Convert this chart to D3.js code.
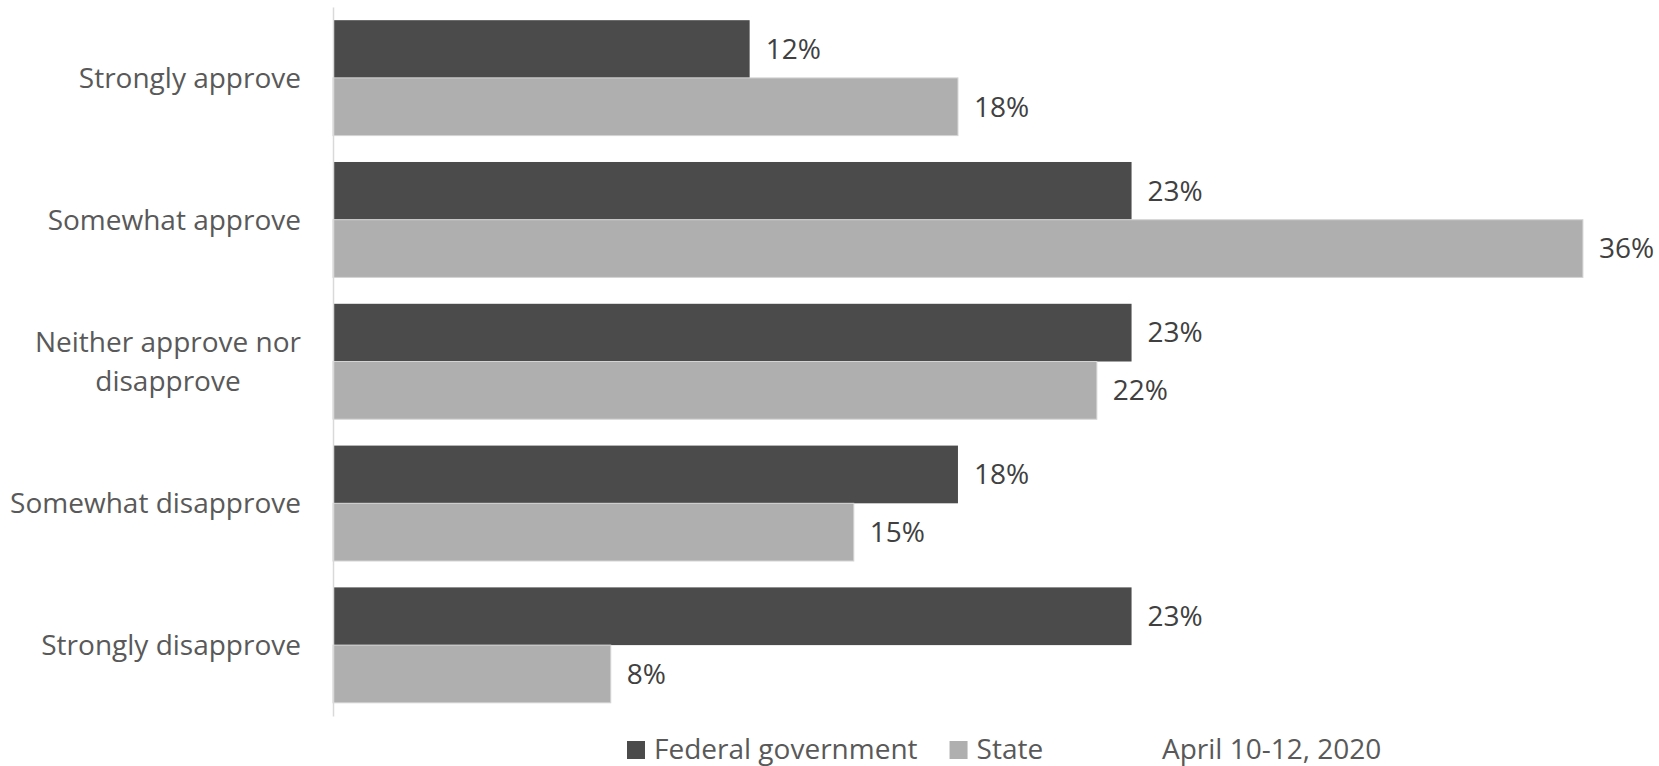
<!DOCTYPE html>
<html>
<head>
<meta charset="utf-8">
<script src="https://cdn.jsdelivr.net/npm/d3@7"></script>
<style>
  html, body { margin: 0; padding: 0; background: #ffffff; }
  svg { display: block; }
  text { font-family: "Open Sans", sans-serif; }
</style>
</head>
<body>
<svg id="chart" width="1659" height="766"></svg>
<script>
// Survey responses, top to bottom
const categories = [
  "Strongly approve",
  "Somewhat approve",
  "Neither approve nor disapprove",
  "Somewhat disapprove",
  "Strongly disapprove"
];
// Label lines for each category (wrapped like the axis labels)
const categoryLines = [
  ["Strongly approve"],
  ["Somewhat approve"],
  ["Neither approve nor", "disapprove"],
  ["Somewhat disapprove"],
  ["Strongly disapprove"]
];
const seriesNames = ["Federal government", "State"];
const federalValues = [12, 23, 23, 18, 23];
const stateValues = [18, 36, 22, 15, 8];
const noteText = "April 10-12, 2020";

const colors = { "Federal government": "#4b4b4b", "State": "#afafaf" };

const W = 1659, H = 766;
const plot = { left: 333, top: 7, bottom: 716 };
const pxPerPct = 34.72;
const fontSize = 28;

const svg = d3.select("#chart");

const y = d3.scaleBand()
  .domain(categories)
  .range([plot.top, plot.bottom])
  .paddingInner(0.186)
  .paddingOuter(0.093);

const ySub = d3.scaleBand()
  .domain(seriesNames)
  .range([0, y.bandwidth()]);

const x = d3.scaleLinear()
  .domain([0, 36])
  .range([plot.left, plot.left + 36 * pxPerPct]);

const rows = categories.map((c, i) => ({
  category: c,
  values: [
    { series: "Federal government", value: federalValues[i] },
    { series: "State", value: stateValues[i] }
  ]
}));

// Bars
const groups = svg.append("g").selectAll("g")
  .data(rows)
  .join("g")
  .attr("transform", d => `translate(0,${y(d.category)})`);

groups.selectAll("rect")
  .data(d => d.values)
  .join("rect")
  .attr("x", x(0))
  .attr("y", d => ySub(d.series))
  .attr("width", d => x(d.value) - x(0))
  .attr("height", ySub.bandwidth())
  .attr("fill", d => colors[d.series])
  .attr("stroke", d => d.series === "State" ? "#d4d4d4" : "none")
  .attr("stroke-width", 1);

// Value labels
groups.selectAll("text.val")
  .data(d => d.values)
  .join("text")
  .attr("class", "val")
  .attr("x", d => x(d.value) + 16)
  .attr("y", d => ySub(d.series) + ySub.bandwidth() / 2)
  .attr("dy", "0.35em")
  .attr("fill", "#404040")
  .attr("font-size", fontSize)
  .text(d => d.value + "%");

// Category axis (vertical line on the left)
const yAxis = svg.append("g")
  .attr("transform", `translate(${plot.left},0)`)
  .call(d3.axisLeft(y).tickSize(0).tickFormat(""));
yAxis.select(".domain").attr("stroke", "#d9d9d9").attr("stroke-width", 1.5);

// Category labels, right-aligned block; wrapped lines centred on each other
const labelRight = 301;
const lineGap = 39;
categories.forEach((c, i) => {
  const lines = categoryLines[i];
  const cy = y(c) + y.bandwidth() / 2;
  const g = svg.append("g");
  const texts = lines.map((ln, k) => g.append("text")
    .attr("y", cy + (k - (lines.length - 1) / 2) * lineGap)
    .attr("dy", "0.35em")
    .attr("fill", "#595959")
    .attr("font-size", fontSize)
    .attr("text-anchor", "middle")
    .text(ln));
  const maxW = d3.max(texts, t => t.node().getComputedTextLength());
  texts.forEach(t => t.attr("x", labelRight - maxW / 2));
});

// Legend
const legendY = 749;
const legend = svg.append("g");
let lx = 627;
seriesNames.forEach(name => {
  legend.append("rect")
    .attr("x", lx).attr("y", legendY - 8)
    .attr("width", 18).attr("height", 18)
    .attr("fill", colors[name]);
  const t = legend.append("text")
    .attr("x", lx + 27).attr("y", legendY)
    .attr("dy", "0.35em")
    .attr("fill", "#595959")
    .attr("font-size", fontSize)
    .text(name);
  lx = lx + 27 + t.node().getComputedTextLength() + 32;
});
legend.append("text")
  .attr("x", 1162).attr("y", legendY)
  .attr("dy", "0.35em")
  .attr("fill", "#595959")
  .attr("font-size", fontSize)
  .text(noteText);
</script>
</body>
</html>
